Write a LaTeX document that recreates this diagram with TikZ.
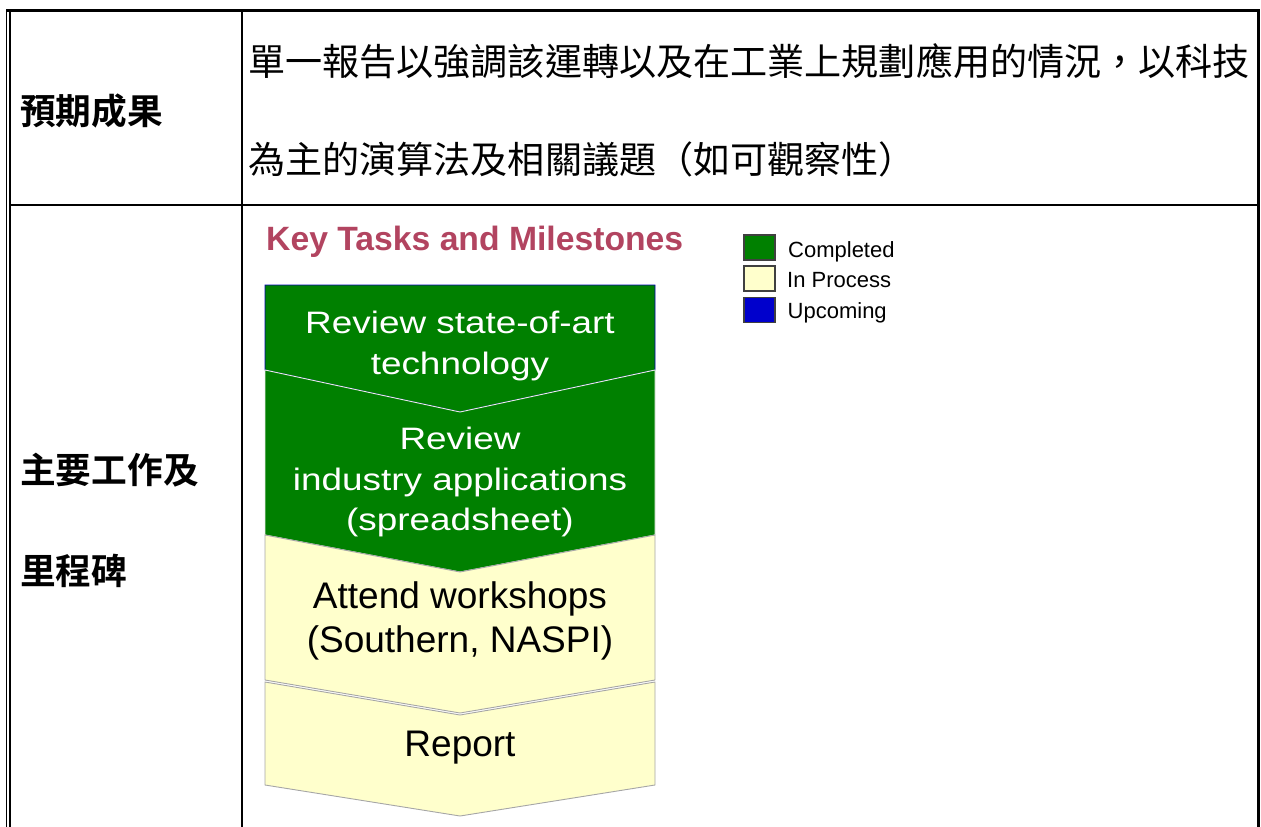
\documentclass[tikz,border=0pt]{standalone}
\usepackage{fontspec}
\setmainfont{Liberation Sans}
\newfontfamily\cjk[BoldFont={Noto Sans CJK TC Bold}]{Noto Sans CJK TC}
\newfontfamily\boxfont[FakeStretch=1.19]{Liberation Sans}
\usetikzlibrary{positioning}
\definecolor{taskgreen}{RGB}{0,128,0}
\definecolor{taskyellow}{RGB}{255,255,204}
\definecolor{taskblue}{RGB}{0,0,204}
\definecolor{titlerose}{RGB}{178,68,96}
\newcommand{\chev}[6]{% fill, draw, top side, notch, bottom side, point
	\path[fill=#1, draw=#2, line width=0.9] (265,#3) -- (460,#4) -- (655,#3) -- (655,#5) -- (460,#6) -- (265,#5) -- cycle;
}
\tikzset
{%
cell/.style={anchor=west, inner sep=0pt, font=\cjk\fontsize{37.1}{40}\selectfont},
head/.style={anchor=west, inner sep=0pt, font=\cjk\bfseries\fontsize{35.7}{40}\selectfont},
task/.style={anchor=base, inner sep=0pt, text=white, font=\boxfont\fontsize{31}{34}\selectfont},
bigtask/.style={anchor=base, inner sep=0pt, font=\fontsize{37}{40}\selectfont},
key/.style={draw=black!75, line width=1.4, minimum width=31pt, minimum height=25pt, inner sep=0pt},
keytext/.style={anchor=base west, inner sep=0pt, font=\fontsize{22}{24}\selectfont},
rule/.style={line width=#1},
}
\begin{document}
\begin{tikzpicture}[x=1pt, y=-1pt]
	\useasboundingbox (0,0) rectangle (1261,827);
	
		% TABLE
		\draw[rule=3] (6,10.5) -- (1259.5,10.5);
		\draw[rule=1.2] (6.5,9) -- (6.5,827);
		\draw[rule=2.2] (10,9) -- (10,827);
		\draw[rule=3] (1258,9) -- (1258,827);
		\draw[rule=2] (242,10.5) -- (242,827);
		\draw[rule=2] (10,205) -- (1258,205);
		
		% FIRST ROW
		\node[head] (h1) at (20,111) {預期成果};
		\node[cell] (c1) at (248,61) {單一報告以強調該運轉以及在工業上規劃應用的情況，以科技};
		\node[cell] (c2) at (248,159) {為主的演算法及相關議題（如可觀察性）};
		
		% SECOND ROW
		\node[head] (h2) at (20,470) {主要工作及};
		\node[head] (h3) at (20,571) {里程碑};
		\node[anchor=base west, inner sep=0pt, text=titlerose, font=\bfseries\fontsize{33.7}{36}\selectfont] (title) at (266,250) {Key Tasks and Milestones};
		
		%Chevrons
		\path[fill=taskgreen, draw=blue!70!black, line width=0.9] (265,285) -- (655,285) -- (655,370) -- (460,412) -- (265,370) -- cycle;
		\chev{taskgreen}{black!8}{370}{412}{535}{572}
		\chev{taskyellow}{black!35}{535}{572}{680}{713}
		\chev{taskyellow}{black!35}{682}{715}{785}{816}
		
		\node[task] (t1) at (460,333) {Review state-of-art};
		\node[task] (t2) at (460,374) {technology};
		\node[task] (t3) at (460,449) {Review};
		\node[task] (t4) at (460,490) {industry applications};
		\node[task] (t5) at (460,530) {(spreadsheet)};
		\node[bigtask] (t6) at (460,608) {Attend workshops};
		\node[bigtask] (t7) at (460,652.5) {(Southern, NASPI)};
		\node[bigtask] (t8) at (460,756.5) {Report};
		
		%Legend
		\node[key, fill=taskgreen] (kdone) at (759.5,247.5) {};
		\node[key, fill=taskyellow] (kproc) at (759.5,278.5) {};
		\node[key, fill=taskblue] (kup) at (759.5,309.8) {};
		\node[keytext] (ldone) at (788,257) {Completed};
		\node[keytext] (lproc) at (787,287) {In Process};
		\node[keytext] (lup) at (787.5,318.3) {Upcoming};
	\end{tikzpicture}
\end{document}
